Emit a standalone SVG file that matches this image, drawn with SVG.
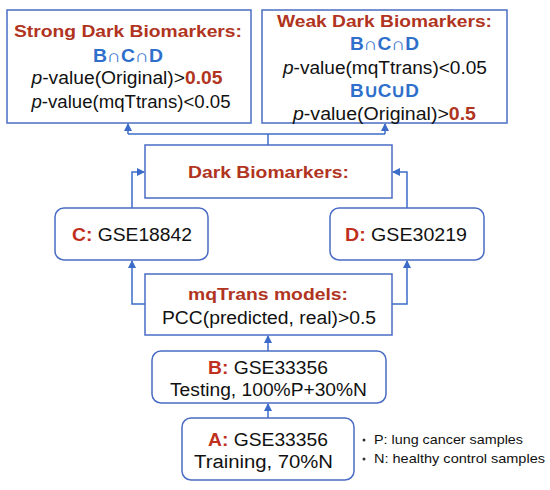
<svg xmlns="http://www.w3.org/2000/svg" width="550" height="490" viewBox="0 0 550 490">
<style>
.box{fill:#fff;stroke:#4a6cc4;stroke-width:1.5}
.t{font-family:"Liberation Sans",Arial,sans-serif;fill:#111;text-anchor:middle}
.h{font-weight:bold;fill:#b0341e}
.b{font-weight:bold;fill:#2f6fcc}
.lbl{font-weight:bold;fill:#c0301e}
.c{fill:none;stroke:#3d6cc8;stroke-width:1.5}
</style>
<defs>
<marker id="ah" markerUnits="userSpaceOnUse" markerWidth="10" markerHeight="10" refX="7" refY="4" orient="auto">
<path d="M0,0 L8,4 L0,8 Z" fill="#3d6cc8"/>
</marker>
</defs>
<rect width="550" height="490" fill="#fff"/>
<g id="connectors">
<path class="c" d="M268,418 V404" marker-end="url(#ah)"/>
<path class="c" d="M268,351 V336" marker-end="url(#ah)"/>
<path class="c" d="M145,304 H132 V261" marker-end="url(#ah)"/>
<path class="c" d="M392,304 H407 V261" marker-end="url(#ah)"/>
<path class="c" d="M132,208 V172 H144" marker-end="url(#ah)"/>
<path class="c" d="M407,208 V172 H393" marker-end="url(#ah)"/>
<path class="c" d="M268,145 V134"/>
<path class="c" d="M128,134 H385"/>
<path class="c" d="M128,134 V124" marker-end="url(#ah)"/>
<path class="c" d="M385,134 V124" marker-end="url(#ah)"/>
</g>
<g id="strong">
<rect class="box" x="7" y="10" width="244" height="113"/>
<text class="t h" x="128" y="37" font-size="17" textLength="228" lengthAdjust="spacingAndGlyphs">Strong Dark Biomarkers:</text>
<text class="t b" x="128" y="62" font-size="17.5" textLength="70" lengthAdjust="spacingAndGlyphs">B∩C∩D</text>
<text class="t" x="127" y="84" font-size="17.5" textLength="191" lengthAdjust="spacingAndGlyphs"><tspan font-style="italic">p</tspan>-value(Original)&gt;<tspan class="h">0.05</tspan></text>
<text class="t" x="131" y="108" font-size="17.5" textLength="199" lengthAdjust="spacingAndGlyphs"><tspan font-style="italic">p</tspan>-value(mqTtrans)&lt;0.05</text>
</g>
<g id="weak">
<rect class="box" x="262" y="10" width="245" height="113"/>
<text class="t h" x="384.5" y="27" font-size="17" textLength="215" lengthAdjust="spacingAndGlyphs">Weak Dark Biomarkers:</text>
<text class="t b" x="384.5" y="50" font-size="17.5" textLength="69" lengthAdjust="spacingAndGlyphs">B∩C∩D</text>
<text class="t" x="385" y="74" font-size="17.5" textLength="204" lengthAdjust="spacingAndGlyphs"><tspan font-style="italic">p</tspan>-value(mqTtrans)&lt;0.05</text>
<text class="t b" x="384.5" y="97" font-size="17.5" textLength="69" lengthAdjust="spacingAndGlyphs">B∪C∪D</text>
<text class="t" x="384.5" y="120" font-size="17.5" textLength="183" lengthAdjust="spacingAndGlyphs"><tspan font-style="italic">p</tspan>-value(Original)&gt;<tspan class="h">0.5</tspan></text>
</g>
<g id="dark">
<rect class="box" x="145" y="145" width="247" height="53"/>
<text class="t h" x="268.5" y="178" font-size="17" textLength="161" lengthAdjust="spacingAndGlyphs">Dark Biomarkers:</text>
</g>
<g id="C">
<rect class="box" x="55" y="208" width="153" height="52" rx="9"/>
<text class="t" x="132" y="241" font-size="18" textLength="120" lengthAdjust="spacingAndGlyphs"><tspan class="lbl">C:</tspan> GSE18842</text>
</g>
<g id="D">
<rect class="box" x="330" y="208" width="154" height="52" rx="9"/>
<text class="t" x="406" y="241" font-size="18" textLength="122" lengthAdjust="spacingAndGlyphs"><tspan class="lbl">D:</tspan> GSE30219</text>
</g>
<g id="mqtrans">
<rect class="box" x="145" y="274" width="247" height="61"/>
<text class="t h" x="268" y="300" font-size="17" textLength="160" lengthAdjust="spacingAndGlyphs">mqTrans models:</text>
<text class="t" x="269" y="324" font-size="18" textLength="214" lengthAdjust="spacingAndGlyphs">PCC(predicted, real)&gt;0.5</text>
</g>
<g id="B">
<rect class="box" x="152" y="351" width="234" height="52" rx="9"/>
<text class="t" x="268" y="374" font-size="18" textLength="120" lengthAdjust="spacingAndGlyphs"><tspan class="lbl">B:</tspan> GSE33356</text>
<text class="t" x="268.5" y="396" font-size="18" textLength="197" lengthAdjust="spacingAndGlyphs">Testing, 100%P+30%N</text>
</g>
<g id="A">
<rect class="box" x="182" y="418" width="172" height="62" rx="9"/>
<text class="t" x="268" y="446" font-size="18" textLength="120" lengthAdjust="spacingAndGlyphs"><tspan class="lbl">A:</tspan> GSE33356</text>
<text class="t" x="263.5" y="468" font-size="18" textLength="139" lengthAdjust="spacingAndGlyphs">Training, 70%N</text>
</g>
<g id="legend" font-family="Liberation Sans, Arial, sans-serif" font-size="13.5" fill="#111">
<circle cx="364" cy="440" r="1.5" fill="#333"/>
<text x="374" y="444" textLength="149" lengthAdjust="spacingAndGlyphs">P: lung cancer samples</text>
<circle cx="364" cy="459" r="1.5" fill="#333"/>
<text x="374" y="463" textLength="171" lengthAdjust="spacingAndGlyphs">N: healthy control samples</text>
</g>
</svg>
